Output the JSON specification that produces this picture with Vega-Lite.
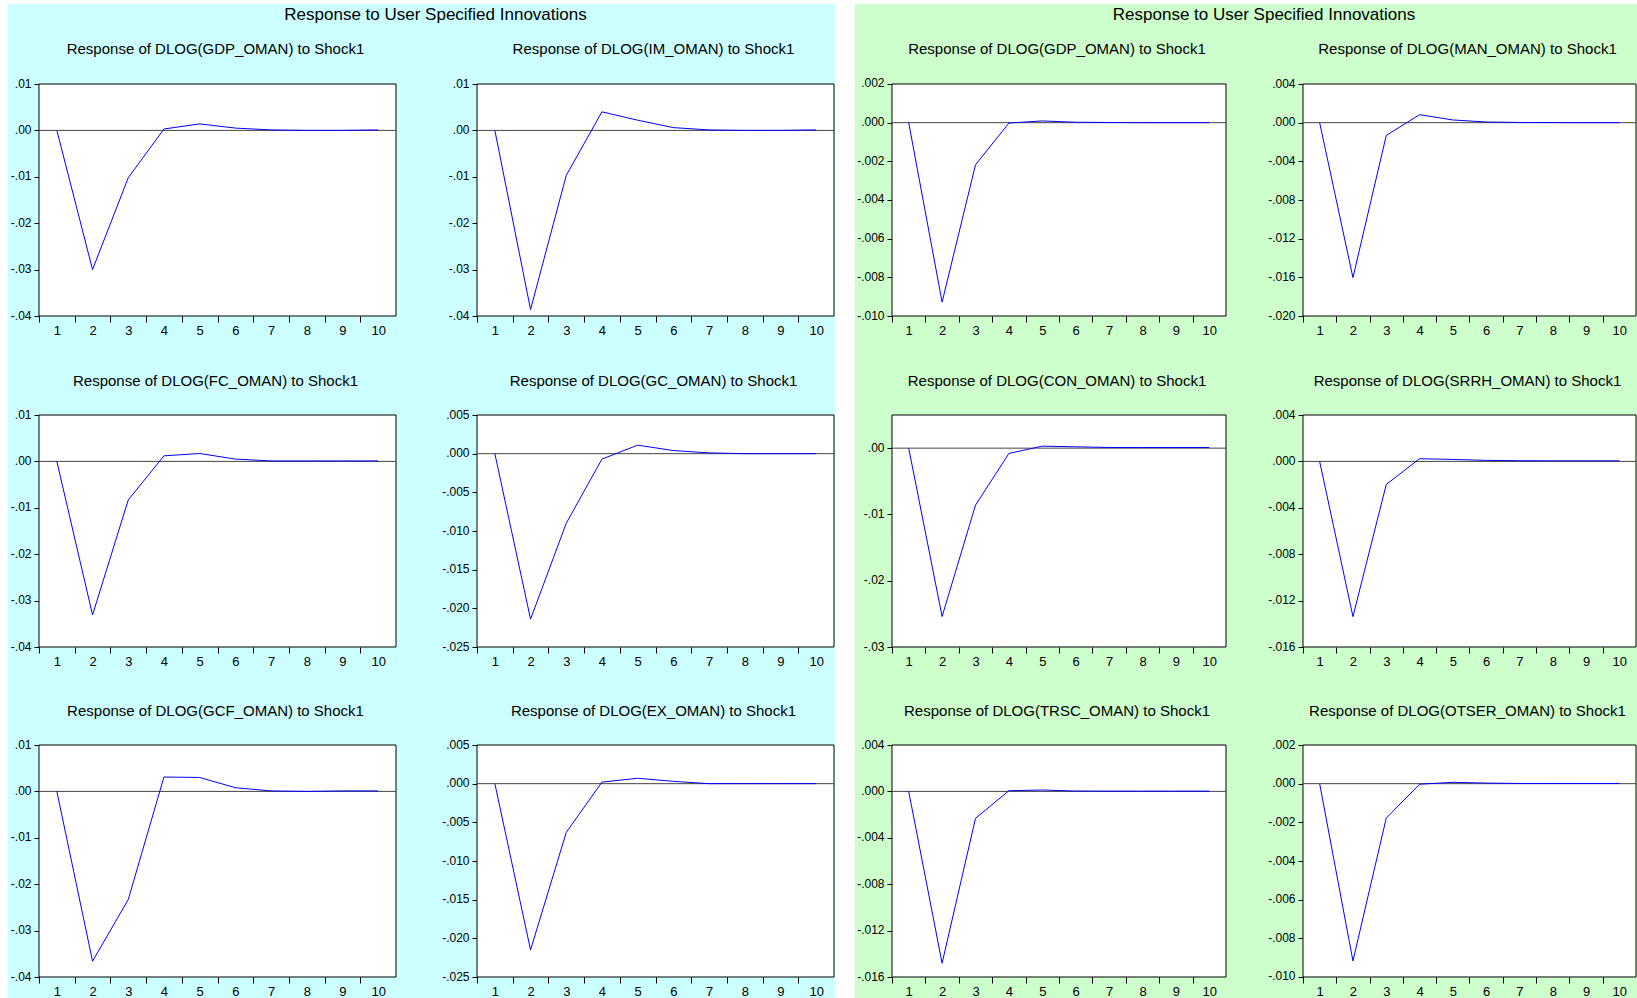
{
"$schema": "https://vega.github.io/schema/vega-lite/v6.json",
"background": "white",
"padding": {"left": 8, "top": 4, "right": 0, "bottom": 0},
"config": {
 "view": {"stroke": null},
 "axis": {"labelFont": "Liberation Sans", "labelColor": "black", "tickColor": "black", "tickWidth": 1, "domain": false, "grid": false, "title": null, "labelOverlap": false, "labelBound": false},
 "axisX": {"tickSize": 6, "labelFontSize": 13, "labelPadding": 2, "labelFlush": false},
 "axisY": {"tickSize": 5, "labelFontSize": 12, "labelPadding": 3, "labelOffset": -1},
 "title": {"font": "Liberation Sans", "fontSize": 15, "fontWeight": "normal", "color": "black", "anchor": "middle", "frame": "group"}
},
"datasets": {
 "L1": [{"step":1,"value":0},{"step":2,"value":-0.0300},{"step":3,"value":-0.0102},{"step":4,"value":0.0003},{"step":5,"value":0.0014},{"step":6,"value":0.0005},{"step":7,"value":0.0001},{"step":8,"value":0.0000},{"step":9,"value":0.0000},{"step":10,"value":0.0001}],
 "L2": [{"step":1,"value":0},{"step":2,"value":-0.0386},{"step":3,"value":-0.0097},{"step":4,"value":0.0040},{"step":5,"value":0.0022},{"step":6,"value":0.0006},{"step":7,"value":0.0001},{"step":8,"value":0.0000},{"step":9,"value":0.0000},{"step":10,"value":0.0001}],
 "L3": [{"step":1,"value":0},{"step":2,"value":-0.0331},{"step":3,"value":-0.0083},{"step":4,"value":0.0012},{"step":5,"value":0.0017},{"step":6,"value":0.0005},{"step":7,"value":0.0001},{"step":8,"value":0.0001},{"step":9,"value":0.0001},{"step":10,"value":0.0001}],
 "L4": [{"step":1,"value":0},{"step":2,"value":-0.0214},{"step":3,"value":-0.0090},{"step":4,"value":-0.0007},{"step":5,"value":0.0011},{"step":6,"value":0.0004},{"step":7,"value":0.0001},{"step":8,"value":0.0000},{"step":9,"value":0.0000},{"step":10,"value":0.0000}],
 "L5": [{"step":1,"value":0},{"step":2,"value":-0.0366},{"step":3,"value":-0.0233},{"step":4,"value":0.0031},{"step":5,"value":0.0030},{"step":6,"value":0.0008},{"step":7,"value":0.0001},{"step":8,"value":0.0000},{"step":9,"value":0.0001},{"step":10,"value":0.0001}],
 "L6": [{"step":1,"value":0},{"step":2,"value":-0.0215},{"step":3,"value":-0.0063},{"step":4,"value":0.0002},{"step":5,"value":0.0007},{"step":6,"value":0.0003},{"step":7,"value":0.0000},{"step":8,"value":0.0000},{"step":9,"value":0.0000},{"step":10,"value":0.0000}],
 "R1": [{"step":1,"value":0},{"step":2,"value":-0.00928},{"step":3,"value":-0.00218},{"step":4,"value":-0.00002},{"step":5,"value":0.00009},{"step":6,"value":0.00002},{"step":7,"value":0.00001},{"step":8,"value":0},{"step":9,"value":0},{"step":10,"value":0}],
 "R2": [{"step":1,"value":0},{"step":2,"value":-0.01603},{"step":3,"value":-0.00132},{"step":4,"value":0.00083},{"step":5,"value":0.00028},{"step":6,"value":0.00007},{"step":7,"value":0.00002},{"step":8,"value":0.00001},{"step":9,"value":0},{"step":10,"value":0}],
 "R3": [{"step":1,"value":0},{"step":2,"value":-0.0254},{"step":3,"value":-0.0086},{"step":4,"value":-0.0008},{"step":5,"value":0.0003},{"step":6,"value":0.0002},{"step":7,"value":0.0001},{"step":8,"value":0.0001},{"step":9,"value":0.0001},{"step":10,"value":0.0001}],
 "R4": [{"step":1,"value":0},{"step":2,"value":-0.01338},{"step":3,"value":-0.00199},{"step":4,"value":0.00023},{"step":5,"value":0.00017},{"step":6,"value":0.00009},{"step":7,"value":0.00006},{"step":8,"value":0.00005},{"step":9,"value":0.00005},{"step":10,"value":0.00005}],
 "R5": [{"step":1,"value":0},{"step":2,"value":-0.01481},{"step":3,"value":-0.00232},{"step":4,"value":0.00006},{"step":5,"value":0.00012},{"step":6,"value":0.00003},{"step":7,"value":0.00002},{"step":8,"value":0.00002},{"step":9,"value":0.00002},{"step":10,"value":0.00002}],
 "R6": [{"step":1,"value":0},{"step":2,"value":-0.00917},{"step":3,"value":-0.00178},{"step":4,"value":-0.00003},{"step":5,"value":0.00007},{"step":6,"value":0.00003},{"step":7,"value":0.00001},{"step":8,"value":0.00001},{"step":9,"value":0.00001},{"step":10,"value":0.00001}]
},
"spacing": 20,
"hconcat": [
 {"spacing": 0, "vconcat": [
  {"width": 827, "height": 26, "view": {"fill": "#CCFFFF", "stroke": null},
   "data": {"values": [{"label": "Response to User Specified Innovations"}]},
   "mark": {"type": "text", "font": "Liberation Sans", "fontSize": 17, "dx": 14, "dy": -2, "baseline": "middle", "align": "center", "color": "black"},
   "encoding": {"text": {"field": "label"}}},
  {"spacing": 0, "bounds": "flush", "hconcat": [
   {"width": 429, "height": 308, "view": {"fill": "#CCFFFF", "stroke": null},
    "title": {"text": "Response of DLOG(GDP_OMAN) to Shock1", "offset": -27, "dx": -7},
    "data": {"name": "L1"},
    "layer": [
     {"data": {"values": [{}]}, "mark": {"type": "rect", "fill": "white", "stroke": "black", "strokeWidth": 1},
      "encoding": {
       "x": {"datum": 0.5, "type": "quantitative", "title": null, "scale": {"domain": [-0.368347, 11.648459], "nice": false, "zero": false},
             "axis": {"values": [1,2,3,4,5,6,7,8,9,10], "format": "d", "offset": -22, "labelOverlap": false, "tickOffset": -17.85, "labelOffset": 17.85}},
       "x2": {"datum": 10.5},
       "y": {"datum": -0.04, "type": "quantitative", "title": null, "scale": {"domain": [-0.04474138, 0.02163793], "nice": false, "zero": false},
             "axis": {"values": [-0.04,-0.03,-0.02,-0.01,0,0.01], "labelExpr": "replace(replace(format(datum.value, '.2f'), '\u2212', '-'), '0.', '.')", "offset": -31}},
       "y2": {"datum": 0.01}}},
     {"data": {"values": [{}]}, "mark": {"type": "rule", "color": "#444444", "strokeWidth": 1},
      "encoding": {"x": {"datum": 0.5, "type": "quantitative", "title": null}, "x2": {"datum": 10.5}, "y": {"datum": 0, "type": "quantitative", "title": null}}},
     {"mark": {"type": "line", "color": "#0000ff", "strokeWidth": 1},
      "encoding": {"x": {"field": "step", "type": "quantitative", "title": null}, "y": {"field": "value", "type": "quantitative", "title": null}}}
    ]},
   {"width": 398, "height": 308, "view": {"fill": "#CCFFFF", "stroke": null},
    "title": {"text": "Response of DLOG(IM_OMAN) to Shock1", "offset": -27, "dx": 17.5},
    "data": {"name": "L2"},
    "layer": [
     {"data": {"values": [{}]}, "mark": {"type": "rect", "fill": "white", "stroke": "black", "strokeWidth": 1},
      "encoding": {
       "x": {"datum": 0.5, "type": "quantitative", "title": null, "scale": {"domain": [-0.620448, 10.528011], "nice": false, "zero": false},
             "axis": {"values": [1,2,3,4,5,6,7,8,9,10], "format": "d", "offset": -22, "labelOverlap": false, "tickOffset": -17.85, "labelOffset": 17.85}},
       "x2": {"datum": 10.5},
       "y": {"datum": -0.04, "type": "quantitative", "title": null, "scale": {"domain": [-0.04474138, 0.02163793], "nice": false, "zero": false},
             "axis": {"values": [-0.04,-0.03,-0.02,-0.01,0,0.01], "labelExpr": "replace(replace(format(datum.value, '.2f'), '\u2212', '-'), '0.', '.')", "offset": -40}},
       "y2": {"datum": 0.01}}},
     {"data": {"values": [{}]}, "mark": {"type": "rule", "color": "#444444", "strokeWidth": 1},
      "encoding": {"x": {"datum": 0.5, "type": "quantitative", "title": null}, "x2": {"datum": 10.5}, "y": {"datum": 0, "type": "quantitative", "title": null}}},
     {"mark": {"type": "line", "color": "#0000ff", "strokeWidth": 1},
      "encoding": {"x": {"field": "step", "type": "quantitative", "title": null}, "y": {"field": "value", "type": "quantitative", "title": null}}}
    ]}
  ]},
  {"spacing": 0, "bounds": "flush", "hconcat": [
   {"width": 429, "height": 330, "view": {"fill": "#CCFFFF", "stroke": null},
    "title": {"text": "Response of DLOG(FC_OMAN) to Shock1", "offset": -51, "dx": -7},
    "data": {"name": "L3"},
    "layer": [
     {"data": {"values": [{}]}, "mark": {"type": "rect", "fill": "white", "stroke": "black", "strokeWidth": 1},
      "encoding": {
       "x": {"datum": 0.5, "type": "quantitative", "title": null, "scale": {"domain": [-0.368347, 11.648459], "nice": false, "zero": false},
             "axis": {"values": [1,2,3,4,5,6,7,8,9,10], "format": "d", "offset": -21, "labelOverlap": false, "tickOffset": -17.85, "labelOffset": 17.85}},
       "x2": {"datum": 10.5},
       "y": {"datum": -0.04, "type": "quantitative", "title": null, "scale": {"domain": [-0.04452586, 0.02659483], "nice": false, "zero": false},
             "axis": {"values": [-0.04,-0.03,-0.02,-0.01,0,0.01], "labelExpr": "replace(replace(format(datum.value, '.2f'), '\u2212', '-'), '0.', '.')", "offset": -31}},
       "y2": {"datum": 0.01}}},
     {"data": {"values": [{}]}, "mark": {"type": "rule", "color": "#444444", "strokeWidth": 1},
      "encoding": {"x": {"datum": 0.5, "type": "quantitative", "title": null}, "x2": {"datum": 10.5}, "y": {"datum": 0, "type": "quantitative", "title": null}}},
     {"mark": {"type": "line", "color": "#0000ff", "strokeWidth": 1},
      "encoding": {"x": {"field": "step", "type": "quantitative", "title": null}, "y": {"field": "value", "type": "quantitative", "title": null}}}
    ]},
   {"width": 398, "height": 330, "view": {"fill": "#CCFFFF", "stroke": null},
    "title": {"text": "Response of DLOG(GC_OMAN) to Shock1", "offset": -51, "dx": 17.5},
    "data": {"name": "L4"},
    "layer": [
     {"data": {"values": [{}]}, "mark": {"type": "rect", "fill": "white", "stroke": "black", "strokeWidth": 1},
      "encoding": {
       "x": {"datum": 0.5, "type": "quantitative", "title": null, "scale": {"domain": [-0.620448, 10.528011], "nice": false, "zero": false},
             "axis": {"values": [1,2,3,4,5,6,7,8,9,10], "format": "d", "offset": -21, "labelOverlap": false, "tickOffset": -17.85, "labelOffset": 17.85}},
       "x2": {"datum": 10.5},
       "y": {"datum": -0.025, "type": "quantitative", "title": null, "scale": {"domain": [-0.02771552, 0.01495690], "nice": false, "zero": false},
             "axis": {"values": [-0.025,-0.02,-0.015,-0.01,-0.005,0,0.005], "labelExpr": "replace(replace(format(datum.value, '.3f'), '\u2212', '-'), '0.', '.')", "offset": -40}},
       "y2": {"datum": 0.005}}},
     {"data": {"values": [{}]}, "mark": {"type": "rule", "color": "#444444", "strokeWidth": 1},
      "encoding": {"x": {"datum": 0.5, "type": "quantitative", "title": null}, "x2": {"datum": 10.5}, "y": {"datum": 0, "type": "quantitative", "title": null}}},
     {"mark": {"type": "line", "color": "#0000ff", "strokeWidth": 1},
      "encoding": {"x": {"field": "step", "type": "quantitative", "title": null}, "y": {"field": "value", "type": "quantitative", "title": null}}}
    ]}
  ]},
  {"spacing": 0, "bounds": "flush", "hconcat": [
   {"width": 429, "height": 330, "view": {"fill": "#CCFFFF", "stroke": null},
    "title": {"text": "Response of DLOG(GCF_OMAN) to Shock1", "offset": -51, "dx": -7},
    "data": {"name": "L5"},
    "layer": [
     {"data": {"values": [{}]}, "mark": {"type": "rect", "fill": "white", "stroke": "black", "strokeWidth": 1},
      "encoding": {
       "x": {"datum": 0.5, "type": "quantitative", "title": null, "scale": {"domain": [-0.368347, 11.648459], "nice": false, "zero": false},
             "axis": {"values": [1,2,3,4,5,6,7,8,9,10], "format": "d", "offset": -21, "labelOverlap": false, "tickOffset": -17.85, "labelOffset": 17.85}},
       "x2": {"datum": 10.5},
       "y": {"datum": -0.04, "type": "quantitative", "title": null, "scale": {"domain": [-0.04452586, 0.02659483], "nice": false, "zero": false},
             "axis": {"values": [-0.04,-0.03,-0.02,-0.01,0,0.01], "labelExpr": "replace(replace(format(datum.value, '.2f'), '\u2212', '-'), '0.', '.')", "offset": -31}},
       "y2": {"datum": 0.01}}},
     {"data": {"values": [{}]}, "mark": {"type": "rule", "color": "#444444", "strokeWidth": 1},
      "encoding": {"x": {"datum": 0.5, "type": "quantitative", "title": null}, "x2": {"datum": 10.5}, "y": {"datum": 0, "type": "quantitative", "title": null}}},
     {"mark": {"type": "line", "color": "#0000ff", "strokeWidth": 1},
      "encoding": {"x": {"field": "step", "type": "quantitative", "title": null}, "y": {"field": "value", "type": "quantitative", "title": null}}}
    ]},
   {"width": 398, "height": 330, "view": {"fill": "#CCFFFF", "stroke": null},
    "title": {"text": "Response of DLOG(EX_OMAN) to Shock1", "offset": -51, "dx": 17.5},
    "data": {"name": "L6"},
    "layer": [
     {"data": {"values": [{}]}, "mark": {"type": "rect", "fill": "white", "stroke": "black", "strokeWidth": 1},
      "encoding": {
       "x": {"datum": 0.5, "type": "quantitative", "title": null, "scale": {"domain": [-0.620448, 10.528011], "nice": false, "zero": false},
             "axis": {"values": [1,2,3,4,5,6,7,8,9,10], "format": "d", "offset": -21, "labelOverlap": false, "tickOffset": -17.85, "labelOffset": 17.85}},
       "x2": {"datum": 10.5},
       "y": {"datum": -0.025, "type": "quantitative", "title": null, "scale": {"domain": [-0.02771552, 0.01495690], "nice": false, "zero": false},
             "axis": {"values": [-0.025,-0.02,-0.015,-0.01,-0.005,0,0.005], "labelExpr": "replace(replace(format(datum.value, '.3f'), '\u2212', '-'), '0.', '.')", "offset": -40}},
       "y2": {"datum": 0.005}}},
     {"data": {"values": [{}]}, "mark": {"type": "rule", "color": "#444444", "strokeWidth": 1},
      "encoding": {"x": {"datum": 0.5, "type": "quantitative", "title": null}, "x2": {"datum": 10.5}, "y": {"datum": 0, "type": "quantitative", "title": null}}},
     {"mark": {"type": "line", "color": "#0000ff", "strokeWidth": 1},
      "encoding": {"x": {"field": "step", "type": "quantitative", "title": null}, "y": {"field": "value", "type": "quantitative", "title": null}}}
    ]}
  ]}
 ]},
 {"spacing": 0, "vconcat": [
  {"width": 782, "height": 26, "view": {"fill": "#CCFFCC", "stroke": null},
   "data": {"values": [{"label": "Response to User Specified Innovations"}]},
   "mark": {"type": "text", "font": "Liberation Sans", "fontSize": 17, "dx": 18, "dy": -2, "baseline": "middle", "align": "center", "color": "black"},
   "encoding": {"text": {"field": "label"}}},
  {"spacing": 0, "bounds": "flush", "hconcat": [
   {"width": 410, "height": 308, "view": {"fill": "#CCFFCC", "stroke": null},
    "title": {"text": "Response of DLOG(GDP_OMAN) to Shock1", "offset": -27, "dx": -3},
    "data": {"name": "R1"},
    "layer": [
     {"data": {"values": [{}]}, "mark": {"type": "rect", "fill": "white", "stroke": "black", "strokeWidth": 1},
      "encoding": {
       "x": {"datum": 0.5, "type": "quantitative", "title": null, "scale": {"domain": [-0.607784, 11.667665], "nice": false, "zero": false},
             "axis": {"values": [1,2,3,4,5,6,7,8,9,10], "format": "d", "offset": -22, "labelOverlap": false, "tickOffset": -16.7, "labelOffset": 16.7}},
       "x2": {"datum": 10.5},
       "y": {"datum": -0.01, "type": "quantitative", "title": null, "scale": {"domain": [-0.01113793, 0.00479310], "nice": false, "zero": false},
             "axis": {"values": [-0.01,-0.008,-0.006,-0.004,-0.002,0,0.002], "labelExpr": "replace(replace(format(datum.value, '.3f'), '\u2212', '-'), '0.', '.')", "offset": -37}},
       "y2": {"datum": 0.002}}},
     {"data": {"values": [{}]}, "mark": {"type": "rule", "color": "#444444", "strokeWidth": 1},
      "encoding": {"x": {"datum": 0.5, "type": "quantitative", "title": null}, "x2": {"datum": 10.5}, "y": {"datum": 0, "type": "quantitative", "title": null}}},
     {"mark": {"type": "line", "color": "#0000ff", "strokeWidth": 1},
      "encoding": {"x": {"field": "step", "type": "quantitative", "title": null}, "y": {"field": "value", "type": "quantitative", "title": null}}}
    ]},
   {"width": 372, "height": 308, "view": {"fill": "#CCFFCC", "stroke": null},
    "title": {"text": "Response of DLOG(MAN_OMAN) to Shock1", "offset": -27, "dx": 16.5},
    "data": {"name": "R2"},
    "layer": [
     {"data": {"values": [{}]}, "mark": {"type": "rect", "fill": "white", "stroke": "black", "strokeWidth": 1},
      "encoding": {
       "x": {"datum": 0.5, "type": "quantitative", "title": null, "scale": {"domain": [-0.641141, 10.530030], "nice": false, "zero": false},
             "axis": {"values": [1,2,3,4,5,6,7,8,9,10], "format": "d", "offset": -22, "labelOverlap": false, "tickOffset": -16.65, "labelOffset": 16.65}},
       "x2": {"datum": 10.5},
       "y": {"datum": -0.02, "type": "quantitative", "title": null, "scale": {"domain": [-0.02227586, 0.00958621], "nice": false, "zero": false},
             "axis": {"values": [-0.02,-0.016,-0.012,-0.008,-0.004,0,0.004], "labelExpr": "replace(replace(format(datum.value, '.3f'), '\u2212', '-'), '0.', '.')", "offset": -38}},
       "y2": {"datum": 0.004}}},
     {"data": {"values": [{}]}, "mark": {"type": "rule", "color": "#444444", "strokeWidth": 1},
      "encoding": {"x": {"datum": 0.5, "type": "quantitative", "title": null}, "x2": {"datum": 10.5}, "y": {"datum": 0, "type": "quantitative", "title": null}}},
     {"mark": {"type": "line", "color": "#0000ff", "strokeWidth": 1},
      "encoding": {"x": {"field": "step", "type": "quantitative", "title": null}, "y": {"field": "value", "type": "quantitative", "title": null}}}
    ]}
  ]},
  {"spacing": 0, "bounds": "flush", "hconcat": [
   {"width": 410, "height": 330, "view": {"fill": "#CCFFCC", "stroke": null},
    "title": {"text": "Response of DLOG(CON_OMAN) to Shock1", "offset": -51, "dx": -3},
    "data": {"name": "R3"},
    "layer": [
     {"data": {"values": [{}]}, "mark": {"type": "rect", "fill": "white", "stroke": "black", "strokeWidth": 1},
      "encoding": {
       "x": {"datum": 0.5, "type": "quantitative", "title": null, "scale": {"domain": [-0.607784, 11.667665], "nice": false, "zero": false},
             "axis": {"values": [1,2,3,4,5,6,7,8,9,10], "format": "d", "offset": -21, "labelOverlap": false, "tickOffset": -16.7, "labelOffset": 16.7}},
       "x2": {"datum": 10.5},
       "y": {"datum": -0.03, "type": "quantitative", "title": null, "scale": {"domain": [-0.03316810, 0.01661638], "nice": false, "zero": false},
             "axis": {"values": [-0.03,-0.02,-0.01,0], "labelExpr": "replace(replace(format(datum.value, '.2f'), '\u2212', '-'), '0.', '.')", "offset": -37}},
       "y2": {"datum": 0.005}}},
     {"data": {"values": [{}]}, "mark": {"type": "rule", "color": "#444444", "strokeWidth": 1},
      "encoding": {"x": {"datum": 0.5, "type": "quantitative", "title": null}, "x2": {"datum": 10.5}, "y": {"datum": 0, "type": "quantitative", "title": null}}},
     {"mark": {"type": "line", "color": "#0000ff", "strokeWidth": 1},
      "encoding": {"x": {"field": "step", "type": "quantitative", "title": null}, "y": {"field": "value", "type": "quantitative", "title": null}}}
    ]},
   {"width": 372, "height": 330, "view": {"fill": "#CCFFCC", "stroke": null},
    "title": {"text": "Response of DLOG(SRRH_OMAN) to Shock1", "offset": -51, "dx": 16.5},
    "data": {"name": "R4"},
    "layer": [
     {"data": {"values": [{}]}, "mark": {"type": "rect", "fill": "white", "stroke": "black", "strokeWidth": 1},
      "encoding": {
       "x": {"datum": 0.5, "type": "quantitative", "title": null, "scale": {"domain": [-0.641141, 10.530030], "nice": false, "zero": false},
             "axis": {"values": [1,2,3,4,5,6,7,8,9,10], "format": "d", "offset": -21, "labelOverlap": false, "tickOffset": -16.65, "labelOffset": 16.65}},
       "x2": {"datum": 10.5},
       "y": {"datum": -0.016, "type": "quantitative", "title": null, "scale": {"domain": [-0.01781034, 0.01063793], "nice": false, "zero": false},
             "axis": {"values": [-0.016,-0.012,-0.008,-0.004,0,0.004], "labelExpr": "replace(replace(format(datum.value, '.3f'), '\u2212', '-'), '0.', '.')", "offset": -38}},
       "y2": {"datum": 0.004}}},
     {"data": {"values": [{}]}, "mark": {"type": "rule", "color": "#444444", "strokeWidth": 1},
      "encoding": {"x": {"datum": 0.5, "type": "quantitative", "title": null}, "x2": {"datum": 10.5}, "y": {"datum": 0, "type": "quantitative", "title": null}}},
     {"mark": {"type": "line", "color": "#0000ff", "strokeWidth": 1},
      "encoding": {"x": {"field": "step", "type": "quantitative", "title": null}, "y": {"field": "value", "type": "quantitative", "title": null}}}
    ]}
  ]},
  {"spacing": 0, "bounds": "flush", "hconcat": [
   {"width": 410, "height": 330, "view": {"fill": "#CCFFCC", "stroke": null},
    "title": {"text": "Response of DLOG(TRSC_OMAN) to Shock1", "offset": -51, "dx": -3},
    "data": {"name": "R5"},
    "layer": [
     {"data": {"values": [{}]}, "mark": {"type": "rect", "fill": "white", "stroke": "black", "strokeWidth": 1},
      "encoding": {
       "x": {"datum": 0.5, "type": "quantitative", "title": null, "scale": {"domain": [-0.607784, 11.667665], "nice": false, "zero": false},
             "axis": {"values": [1,2,3,4,5,6,7,8,9,10], "format": "d", "offset": -21, "labelOverlap": false, "tickOffset": -16.7, "labelOffset": 16.7}},
       "x2": {"datum": 10.5},
       "y": {"datum": -0.016, "type": "quantitative", "title": null, "scale": {"domain": [-0.01781034, 0.01063793], "nice": false, "zero": false},
             "axis": {"values": [-0.016,-0.012,-0.008,-0.004,0,0.004], "labelExpr": "replace(replace(format(datum.value, '.3f'), '\u2212', '-'), '0.', '.')", "offset": -37}},
       "y2": {"datum": 0.004}}},
     {"data": {"values": [{}]}, "mark": {"type": "rule", "color": "#444444", "strokeWidth": 1},
      "encoding": {"x": {"datum": 0.5, "type": "quantitative", "title": null}, "x2": {"datum": 10.5}, "y": {"datum": 0, "type": "quantitative", "title": null}}},
     {"mark": {"type": "line", "color": "#0000ff", "strokeWidth": 1},
      "encoding": {"x": {"field": "step", "type": "quantitative", "title": null}, "y": {"field": "value", "type": "quantitative", "title": null}}}
    ]},
   {"width": 372, "height": 330, "view": {"fill": "#CCFFCC", "stroke": null},
    "title": {"text": "Response of DLOG(OTSER_OMAN) to Shock1", "offset": -51, "dx": 16.5},
    "data": {"name": "R6"},
    "layer": [
     {"data": {"values": [{}]}, "mark": {"type": "rect", "fill": "white", "stroke": "black", "strokeWidth": 1},
      "encoding": {
       "x": {"datum": 0.5, "type": "quantitative", "title": null, "scale": {"domain": [-0.641141, 10.530030], "nice": false, "zero": false},
             "axis": {"values": [1,2,3,4,5,6,7,8,9,10], "format": "d", "offset": -21, "labelOverlap": false, "tickOffset": -16.65, "labelOffset": 16.65}},
       "x2": {"datum": 10.5},
       "y": {"datum": -0.01, "type": "quantitative", "title": null, "scale": {"domain": [-0.01108621, 0.00598276], "nice": false, "zero": false},
             "axis": {"values": [-0.01,-0.008,-0.006,-0.004,-0.002,0,0.002], "labelExpr": "replace(replace(format(datum.value, '.3f'), '\u2212', '-'), '0.', '.')", "offset": -38}},
       "y2": {"datum": 0.002}}},
     {"data": {"values": [{}]}, "mark": {"type": "rule", "color": "#444444", "strokeWidth": 1},
      "encoding": {"x": {"datum": 0.5, "type": "quantitative", "title": null}, "x2": {"datum": 10.5}, "y": {"datum": 0, "type": "quantitative", "title": null}}},
     {"mark": {"type": "line", "color": "#0000ff", "strokeWidth": 1},
      "encoding": {"x": {"field": "step", "type": "quantitative", "title": null}, "y": {"field": "value", "type": "quantitative", "title": null}}}
    ]}
  ]}
 ]}
]
}
